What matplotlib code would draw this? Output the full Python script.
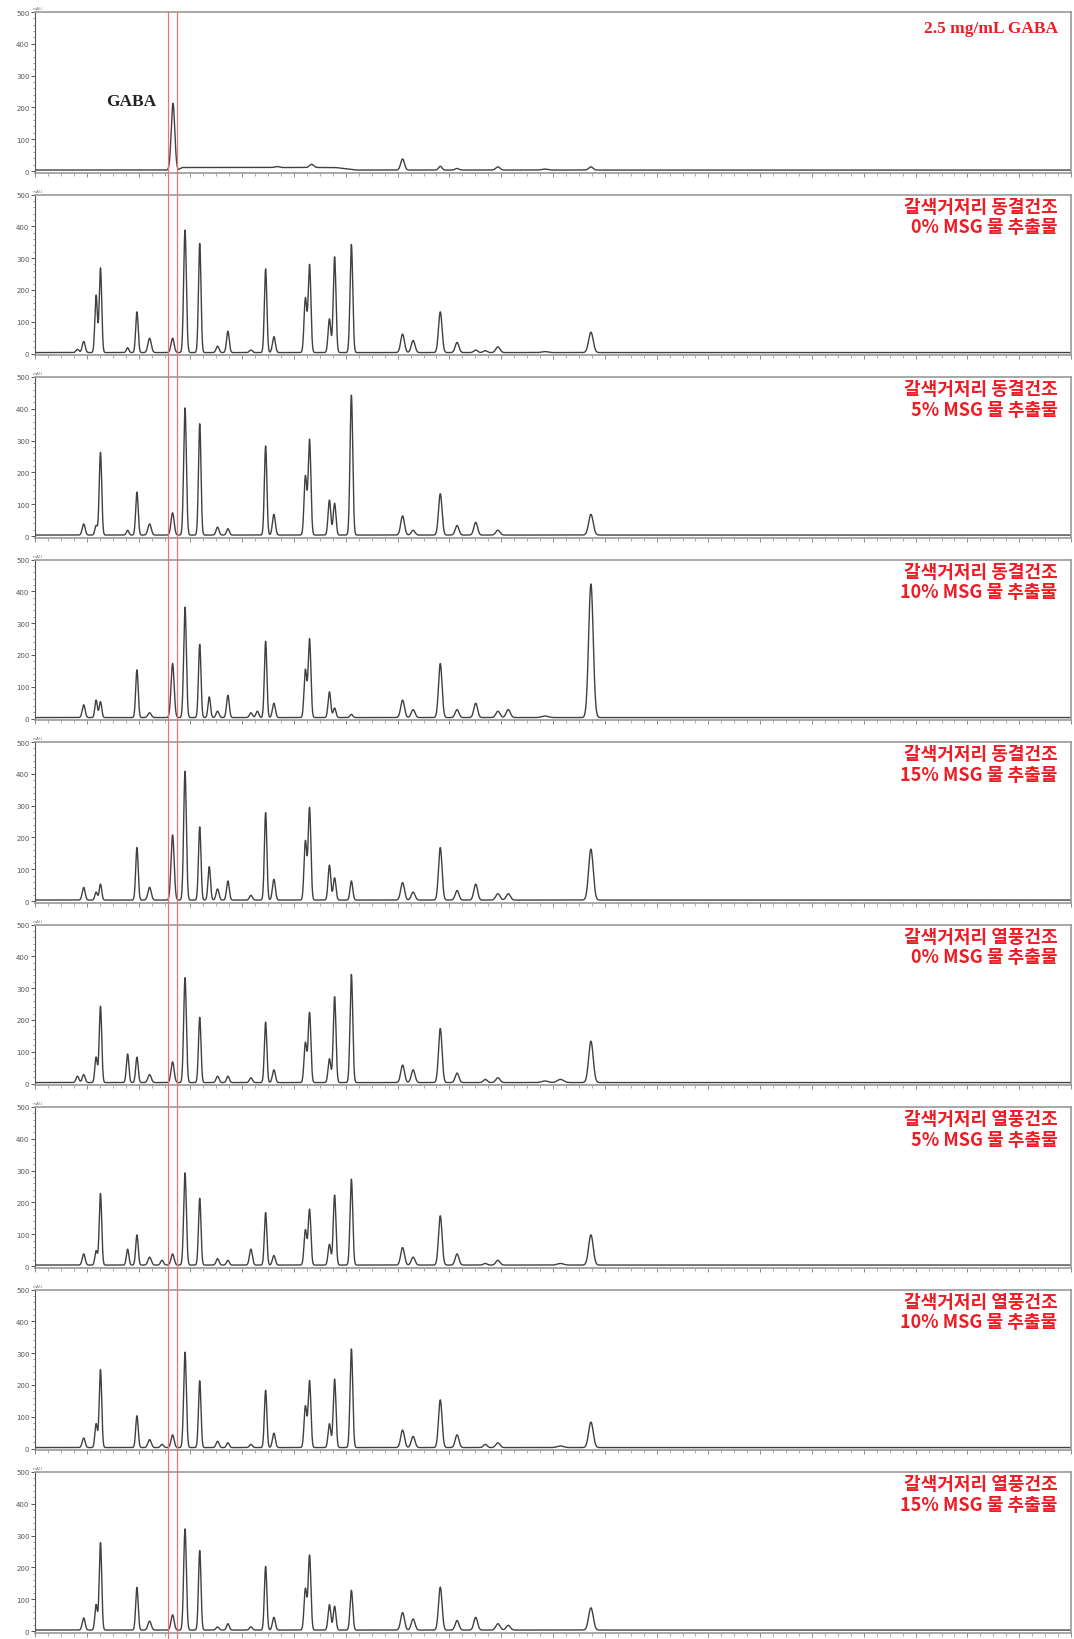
import numpy as np
import matplotlib
matplotlib.use("Agg")
import matplotlib.pyplot as plt
from matplotlib.lines import Line2D
from matplotlib.ticker import MultipleLocator
import matplotlib.transforms as mtransforms

plt.rcParams['font.family'] = ['Noto Sans CJK KR', 'DejaVu Sans']

# ---------------- data (retention time in min, height in mAU) ----------------
retention_times = [2.05, 2.35, 2.95, 3.16, 4.47, 4.92, 5.53, 6.13, 6.64, 7.24,
                   7.95, 8.41, 8.81, 9.31, 10.42, 10.73, 11.13, 11.53, 13.05, 13.25,
                   14.21, 14.46, 15.27, 17.74, 18.25, 19.56, 20.37, 21.27, 21.73, 22.34,
                   22.84, 24.61, 25.36, 26.83]
peak_widths = [0.07, 0.07, 0.06, 0.06, 0.06, 0.06, 0.08, 0.07, 0.075, 0.065,
               0.06, 0.06, 0.07, 0.065, 0.07, 0.07, 0.06, 0.07, 0.065, 0.065,
               0.065, 0.065, 0.065, 0.09, 0.09, 0.085, 0.09, 0.09, 0.09, 0.1,
               0.1, 0.15, 0.15, 0.11]

gaba_std_times = [6.66, 11.68, 13.35, 17.74, 19.56, 20.37, 22.34, 24.61, 26.83]
gaba_std_heights = [210, 3, 10, 35, 12, 5, 10, 3, 10]
gaba_std_widths = [0.085, 0.1, 0.1, 0.09, 0.08, 0.09, 0.1, 0.15, 0.1]
gaba_std_drift = [6.9, 15.5, 8]  # start, end, level

fd_0 = [10, 35, 180, 266, 15, 128, 45, 0, 45, 385, 343, 0, 20, 67, 8, 0, 263, 50, 170, 276,
        106, 301, 340, 58, 38, 128, 32, 8, 6, 18, 0, 3, 0, 64]
fd_5 = [0, 35, 30, 260, 15, 135, 35, 0, 70, 400, 350, 0, 25, 20, 0, 0, 280, 65, 185, 300,
        110, 100, 440, 60, 15, 130, 30, 40, 0, 15, 0, 0, 0, 65]
fd_10 = [0, 40, 55, 50, 0, 150, 15, 0, 170, 347, 230, 65, 20, 70, 15, 20, 240, 45, 150, 247,
         81, 30, 10, 55, 25, 170, 25, 45, 0, 20, 25, 5, 0, 420]
fd_15 = [0, 40, 25, 50, 0, 165, 40, 0, 205, 405, 230, 105, 35, 60, 15, 0, 275, 65, 185, 290,
         110, 70, 60, 55, 25, 165, 30, 50, 0, 20, 20, 0, 0, 160]
ha_0 = [20, 25, 80, 240, 90, 80, 25, 0, 65, 330, 205, 0, 20, 20, 15, 0, 190, 40, 125, 220,
        75, 270, 340, 55, 40, 170, 30, 0, 10, 15, 0, 5, 10, 130]
ha_5 = [0, 35, 45, 225, 50, 95, 25, 15, 35, 290, 210, 0, 20, 15, 50, 0, 165, 30, 110, 175,
        65, 220, 270, 55, 25, 155, 35, 0, 5, 15, 0, 0, 5, 95]
ha_10 = [0, 30, 75, 245, 0, 100, 25, 10, 40, 300, 210, 0, 20, 15, 10, 0, 180, 45, 130, 210,
         75, 215, 310, 55, 35, 150, 40, 0, 10, 15, 0, 0, 5, 80]
ha_15 = [0, 38, 80, 275, 0, 134, 28, 0, 48, 318, 250, 0, 10, 20, 10, 0, 200, 40, 130, 235,
         80, 75, 125, 55, 35, 135, 30, 40, 0, 20, 15, 0, 0, 70]

panel_labels = [
    ["2.5 mg/mL GABA"],
    ["갈색거저리 동결건조", "0% MSG 물 추출물"],
    ["갈색거저리 동결건조", "5% MSG 물 추출물"],
    ["갈색거저리 동결건조", "10% MSG 물 추출물"],
    ["갈색거저리 동결건조", "15% MSG 물 추출물"],
    ["갈색거저리 열풍건조", "0% MSG 물 추출물"],
    ["갈색거저리 열풍건조", "5% MSG 물 추출물"],
    ["갈색거저리 열풍건조", "10% MSG 물 추출물"],
    ["갈색거저리 열풍건조", "15% MSG 물 추출물"],
]
sample_heights = [fd_0, fd_5, fd_10, fd_15, ha_0, ha_5, ha_10, ha_15]
gaba_window = [6.42, 6.85]
y_ticks = [0, 100, 200, 300, 400, 500]
x_range = [0, 50]
baseline_level = 3

# ---------------- figure ----------------
W, H = 1074, 1640
fig = plt.figure(figsize=(W / 100, H / 100), dpi=100)
fig.patch.set_facecolor('white')

t = np.linspace(x_range[0], x_range[1], 12000)


def trace(times, heights, widths):
    y = np.full_like(t, baseline_level, dtype=float)
    for tc, h, w in zip(times, heights, widths):
        if h > 0:
            y += h * np.exp(-0.5 * ((t - tc) / w) ** 2)
    return y


signals = []
y0 = trace(gaba_std_times, gaba_std_heights, gaba_std_widths)
ds, de, dl = gaba_std_drift
ramp = np.clip((t - ds) / 0.2, 0, 1) * np.clip((de - t) / 1.0, 0, 1)
y0 = y0 + dl * ramp
signals.append(y0)
for hts in sample_heights:
    signals.append(trace(retention_times, hts, peak_widths))

left_px, right_px = 35, 1071
panel_h_px = 160.6
axes = []
for k in range(9):
    top_px = 13 + 182.5 * k
    bottom_px = top_px + panel_h_px
    ax = fig.add_axes([left_px / W, 1 - bottom_px / H, (right_px - left_px) / W, panel_h_px / H])
    axes.append(ax)
    ax.plot(t, signals[k], color='#404040', lw=1.0)
    ax.set_xlim(*x_range)
    ax.set_ylim(-5, 500)
    ax.set_yticks(y_ticks)
    ax.set_yticklabels([str(v) for v in y_ticks], fontsize=5, color='#555555',
                       family='DejaVu Sans')
    ax.yaxis.set_minor_locator(MultipleLocator(20))
    ax.xaxis.set_major_locator(MultipleLocator(2.5))
    ax.xaxis.set_minor_locator(MultipleLocator(0.625))
    ax.set_xticklabels([])
    ax.tick_params(axis='y', which='major', length=3, width=0.7, color='#555555', pad=1)
    ax.tick_params(axis='y', which='minor', length=1.5, width=0.5, color='#777777')
    ax.tick_params(axis='x', which='major', length=3, width=0.6, color='#777777')
    ax.tick_params(axis='x', which='minor', length=2, width=0.5, color='#888888')
    for s in ['top', 'right', 'bottom']:
        ax.spines[s].set_color('#9a9a9a')
        ax.spines[s].set_linewidth(1.2)
    ax.spines['left'].set_color('#555555')
    ax.spines['left'].set_linewidth(0.8)
    ax.text(-0.002, 1.01, 'mAU', transform=ax.transAxes, fontsize=3, color='#777777',
            ha='left', va='bottom', family='DejaVu Sans')

    lab = panel_labels[k]
    if len(lab) == 1:
        ax.text(0.987, 0.90, lab[0], transform=ax.transAxes, ha='right', va='center',
                fontsize=12.5, fontweight='bold', color='#ee1c25',
                family=['Liberation Serif', 'DejaVu Serif'])
    else:
        ax.text(0.987, 0.928, lab[0], transform=ax.transAxes, ha='right', va='center',
                fontsize=13, fontweight='bold', color='#ee1c25')
        ax.text(0.987, 0.800, lab[1], transform=ax.transAxes, ha='right', va='center',
                fontsize=13, fontweight='bold', color='#ee1c25')

axes[0].text(4.65, 220, 'GABA', ha='center', va='center', fontsize=12.5, fontweight='bold',
             color='#222222', family=['Liberation Serif', 'DejaVu Serif'])

# red GABA window lines spanning all panels
blend = mtransforms.blended_transform_factory(axes[0].transData, fig.transFigure)
for xv in gaba_window:
    fig.add_artist(Line2D([xv, xv], [1 - 13 / H, 0], transform=blend,
                          color='#f07070', lw=0.9))

fig.savefig('out.png', dpi=100, facecolor='white')
